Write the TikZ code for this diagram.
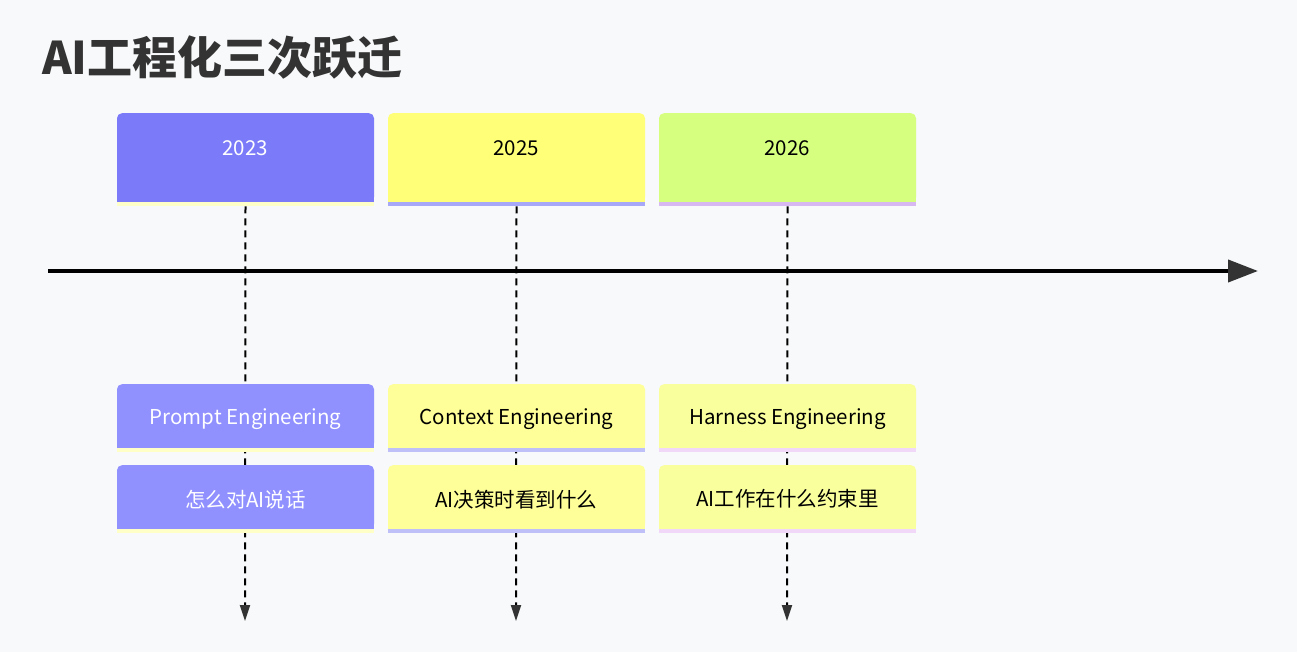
\documentclass[tikz,border=0pt]{standalone}
\usepackage{fontspec}
\setmainfont{Noto Sans CJK SC}
\usetikzlibrary{arrows.meta}
\definecolor{bg}{HTML}{F8F9FA}
\definecolor{yA}{HTML}{7B7BF9}
\definecolor{yB}{HTML}{FFFF78}
\definecolor{yC}{HTML}{D6FF80}
\definecolor{eA}{HTML}{9090FF}
\definecolor{eB}{HTML}{FFFF99}
\definecolor{eC}{HTML}{FAFF9E}
\definecolor{sA}{HTML}{FFFFC8}
\definecolor{sB}{HTML}{A8A8F8}
\definecolor{sC}{HTML}{D8B8F0}
\definecolor{tB}{HTML}{C0C0F8}
\definecolor{tC}{HTML}{F2D8F8}
\definecolor{tipc}{HTML}{333333}
\tikzset{
  boxshape/.style={rectangle, rounded corners=5pt, inner sep=0pt, minimum width=257pt},
  yearbox/.style={boxshape, minimum height=89pt},
  evbox/.style={boxshape, minimum height=64pt},
  lbl/.style={font=\fontsize{20.5}{24}\selectfont, inner sep=0pt},
  vdash/.style={draw=black, line width=2pt, dash pattern=on 7pt off 5pt, -{Triangle[length=16pt,width=10pt,color=tipc]}},
  axis/.style={draw=black, line width=4pt, -{Triangle[length=30pt,width=22pt,color=tipc]}}
}
\newcommand{\boxwith}[7]{% name, x, ytop, height, fill, stripe, style
  \node[#7, fill=#5, anchor=north] (#1) at (#2,#3) {};
  \fill[#5] ([yshift=8pt]#1.south west) rectangle (#1.south east);
  \fill[#6] (#1.south west) rectangle ([yshift=-4pt]#1.south east);
}
\begin{document}
\begin{tikzpicture}[x=1pt,y=-1pt]
\fill[bg] (0,0) rectangle (1297,652);
\useasboundingbox (0,0) rectangle (1297,652);
% title
\node[anchor=west, inner sep=0pt, font=\fontsize{45}{52}\selectfont\bfseries, text=tipc] (title) at (42,58) {AI工程化三次跃迁};
% axis
\coordinate (axS) at (48,271);
\coordinate (axE) at (1258,271);
\draw[axis] (axS) -- (axE);
% year boxes
\boxwith{yA}{245.5}{113}{89}{yA}{sA}{yearbox}
\boxwith{yB}{516.5}{113}{89}{yB}{sB}{yearbox}
\boxwith{yC}{787.5}{113}{89}{yC}{sC}{yearbox}
% ends
\coordinate (endA) at (245,621);
\coordinate (endB) at (516,621);
\coordinate (endC) at (787,621);
\draw[vdash] ([yshift=-4pt]yA.south) -- (endA);
\draw[vdash] ([yshift=-4pt]yB.south) -- (endB);
\draw[vdash] ([yshift=-4pt]yC.south) -- (endC);
% event boxes
\boxwith{pA}{245.5}{384}{64}{eA}{sA}{evbox}
\boxwith{pB}{516.5}{384}{64}{eB}{tB}{evbox}
\boxwith{pC}{787.5}{384}{64}{eC}{tC}{evbox}
\boxwith{qA}{245.5}{465}{64}{eA}{sA}{evbox}
\boxwith{qB}{516.5}{465}{64}{eB}{tB}{evbox}
\boxwith{qC}{787.5}{465}{64}{eC}{tC}{evbox}
% labels
\node[lbl, text=white] (tA) at (245,148) {2023};
\node[lbl] (tB2) at (516,148) {2025};
\node[lbl] (tC2) at (787,148) {2026};
\node[lbl, text=white] at ([yshift=-3pt]pA.center) {Prompt Engineering};
\node[lbl] at ([yshift=-3pt]pB.center) {Context Engineering};
\node[lbl] at ([yshift=-3pt]pC.center) {Harness Engineering};
\node[lbl, text=white] at ([yshift=-2pt]qA.center) {怎么对AI说话};
\node[lbl] at ([yshift=-2pt]qB.center) {AI决策时看到什么};
\node[lbl] at ([yshift=-2pt]qC.center) {AI工作在什么约束里};
\end{tikzpicture}
\end{document}
